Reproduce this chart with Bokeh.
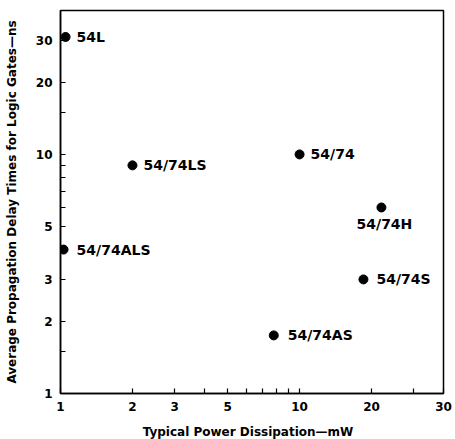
from bokeh.plotting import figure
from bokeh.models import FixedTicker, ColumnDataSource, Range1d, Div
from bokeh.layouts import column
from bokeh.core.properties import value
from bokeh.embed import file_html
from bokeh.resources import INLINE

# ---- data ----
devices = ["54L", "54/74LS", "54/74ALS", "54/74", "54/74H", "54/74S", "54/74AS"]
power_mw = [1.05, 2.0, 1.03, 10.0, 22.0, 18.5, 7.8]
delay_ns = [31.0, 9.0, 4.0, 10.0, 6.0, 3.0, 1.75]

x_major_ticks = [1, 2, 3, 5, 10, 20, 40]
x_major_labels = ["1", "2", "3", "5", "10", "20", "30"]
x_minor_ticks = [4, 6, 7, 8, 9, 30]
y_major_ticks = [1, 2, 3, 5, 10, 20, 30]
y_major_labels = ["1", "2", "3", "5", "10", "20", "30"]
y_minor_ticks = [1.5, 4, 6, 7, 8, 9, 15]

x_title = "Typical Power Dissipation—mW"
y_title = "Average Propagation Delay Times for Logic Gates—ns"

# ---- label placement (style only) ----
label_dx = [11, 11, 13, 11, 3, 13, 14]
label_dy = [0, 0, 0, 0, 17, 0, 0]
label_align = ["left", "left", "left", "left", "center", "left", "left"]

FONT = "DejaVu Sans"

src = ColumnDataSource(dict(power=power_mw, delay=delay_ns, device=devices,
                            dx=label_dx, dy=label_dy, align=label_align))

p = figure(width=453, height=423, x_axis_type="log", y_axis_type="log",
           x_range=Range1d(1, 40), y_range=Range1d(1, 40),
           output_backend="svg", toolbar_location=None,
           min_border_left=60, min_border_right=10, min_border_top=10, min_border_bottom=30,
           background_fill_color="white", border_fill_color="white")

p.xgrid.visible = False
p.ygrid.visible = False
p.outline_line_color = "black"
p.outline_line_width = 1.5
p.outline_line_alpha = 1.0

p.xaxis[0].ticker = FixedTicker(ticks=x_major_ticks, minor_ticks=x_minor_ticks)
p.yaxis[0].ticker = FixedTicker(ticks=y_major_ticks, minor_ticks=y_minor_ticks)
p.xaxis[0].major_label_overrides = {t: l for t, l in zip(x_major_ticks, x_major_labels)}
p.yaxis[0].major_label_overrides = {t: l for t, l in zip(y_major_ticks, y_major_labels)}

p.yaxis.axis_label = y_title

for ax in (p.xaxis[0], p.yaxis[0]):
    ax.axis_line_color = "black"
    ax.axis_line_width = 1.5
    ax.major_tick_in = 5
    ax.major_tick_out = 0
    ax.minor_tick_in = 5
    ax.minor_tick_out = 0
    ax.major_tick_line_color = "black"
    ax.minor_tick_line_color = "black"
    ax.major_tick_line_width = 1.2
    ax.minor_tick_line_width = 1.2
    ax.major_label_text_font = FONT
    ax.major_label_text_font_style = "bold"
    ax.major_label_text_font_size = "12px"
    ax.major_label_text_color = "black"
    ax.major_label_standoff = 8
    ax.axis_label_text_font = FONT
    ax.axis_label_text_font_style = "bold"
    ax.axis_label_text_font_size = "12px"
    ax.axis_label_text_color = "black"

p.yaxis[0].axis_label_standoff = 14
p.yaxis[0].major_label_orientation = "horizontal"

p.scatter(x="power", y="delay", source=src, size=9, fill_color="black", line_color="black")
p.text(x="power", y="delay", text="device", source=src,
       x_offset="dx", y_offset="dy", text_align="align", text_baseline="middle",
       text_font=value(FONT), text_font_style="bold", text_font_size="14px",
       text_color="black")

xlabel = Div(text=x_title, width=443, height=14, margin=(2, 0, 0, 0),
             styles={"font-family": FONT, "font-weight": "bold", "font-size": "12px",
                     "text-align": "center", "padding-left": "53px", "line-height": "14px",
                     "color": "black", "box-sizing": "border-box", "width": "443px"})

layout = column(p, xlabel, spacing=0)

open("out.html", "w").write(file_html(layout, INLINE))
